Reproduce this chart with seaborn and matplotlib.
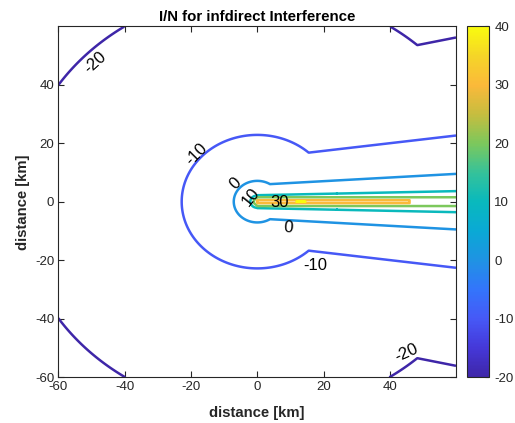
import numpy as np
import matplotlib
matplotlib.use("Agg")
import matplotlib.pyplot as plt
import seaborn as sns

# ---------------- data ----------------
title = "I/N for infdirect Interference"
xlabel = "distance [km]"
ylabel = "distance [km]"
levels = [-20, -10, 0, 10, 20, 30, 40]
tick_vals = [-60, -40, -20, 0, 20, 40]
cbar_ticks = [-20, -10, 0, 10, 20, 30, 40]

# isotropic part: radius (km) of each contour ring around the site
ring_levels = [-20, -10, 0, 10, 20]
ring_radius = [72.0, 22.8, 7.1, 2.1, 0.8]

# beam along +x: contour half-width (km) at x = 0 and x = 60
beam_levels = [-20, -10, 0, 10, 20]
beam_halfwidth_x0 = [42.7, 14.7, 5.75, 2.2, 1.5]
beam_halfwidth_x60 = [56.1, 22.6, 9.5, 3.6, 1.5]

# on-axis beam values (dB) and half-width of the 30 dB contour
axis_x = [0, 5, 10, 12, 13.5, 15, 17, 22, 28, 33, 40, 45.8, 52, 60]
axis_peak = [31, 32, 34, 40.8, 41, 39.5, 35, 33, 33.5, 34, 33, 30.05, 27, 25]
w30 = 0.5

# contour label positions (km): anchor near the line, and text centre
label_snap = [(-48.9, 47.2), (44.8, -51.6),
              (-18.3, 16.3), (17.4, -21.9),
              (-6.5, 6.1), (9.3, -9.0),
              (-2.0, 1.8),
              (6.6, -0.5)]
label_text_pos = [(-48.9, 47.5), (44.8, -51.6),
                  (-18.3, 16.3), (17.4, -21.9),
                  (-6.5, 6.1), (9.3, -9.0),
                  (-2.0, 1.6),
                  (6.6, -0.2)]

# parula-like anchor colours, every 5 dB from -20 to 40
parula_anchor = ["#3e26a8", "#4538d9", "#4659f7", "#3375fb", "#1f93e3",
                 "#0aa9d5", "#09b9bd", "#35c29a", "#7cc85c", "#c6bd3f",
                 "#fbb93a", "#f5d528", "#f9fb0e"]

# ---------------- field ----------------
def log_interp(d, dist, lev):
    ld = np.log(np.asarray(dist, float))[::-1]
    lv = np.asarray(lev, float)[::-1]
    ln = np.log(np.maximum(d, 1e-6))
    out = np.interp(ln, ld, lv)
    lo_s = (lv[1] - lv[0]) / (ld[1] - ld[0])
    hi_s = (lv[-1] - lv[-2]) / (ld[-1] - ld[-2])
    out = np.where(ln < ld[0], lv[0] + lo_s * (ln - ld[0]), out)
    out = np.where(ln > ld[-1], lv[-1] + hi_s * (ln - ld[-1]), out)
    return out

x = np.round(np.arange(-60, 59.95, 0.1), 3)
yc = np.arange(-60, 59.95, 0.2)
yf = np.arange(-5, 5.0001, 0.02)
y = np.unique(np.round(np.concatenate([yc, yf]), 4))
X, Y = np.meshgrid(x, y)
R = np.hypot(X, Y)
ring = np.minimum(log_interp(R, ring_radius, ring_levels), 28.0)

ay = np.abs(y)
beam = np.empty_like(X)
for j, xv in enumerate(x):
    xe = max(xv, 0.0)
    widths = [np.interp(xe, [0, 60], [a, b]) for a, b in zip(beam_halfwidth_x0, beam_halfwidth_x60)]
    w20 = widths[-1]
    outer = log_interp(ay, widths, beam_levels)
    p = np.interp(xe, axis_x, axis_peak)
    if p > 30:
        inner = np.where(ay < w30, p - (p - 30) * ay / w30,
                         30 - 10 * (ay - w30) / (w20 - w30))
    else:
        inner = p - (p - 20) * ay / w20
    col = np.where(ay < w20, inner, outer)
    if xv < 0:
        col = col - 10.0 * abs(xv)
    beam[:, j] = col

Z = np.maximum(ring, beam)

# ---------------- plot ----------------
sns.set_theme(style="ticks")
plt.rcParams["font.family"] = ["Liberation Sans", "DejaVu Sans"]
plt.rcParams["axes.unicode_minus"] = False
cmap = sns.blend_palette(parula_anchor, as_cmap=True)

fig = plt.figure(figsize=(5.15, 4.23), dpi=100)
ax = fig.add_axes([58.3 / 515, (423 - 377.3) / 423, (456 - 58.3) / 515, (377.3 - 26.3) / 423])
cax = fig.add_axes([467.3 / 515, (423 - 377.3) / 423, 21.4 / 515, (377.3 - 26.3) / 423])

cs = ax.contour(X, Y, Z, levels=levels, cmap=cmap, vmin=-20, vmax=40, linewidths=1.8)
texts = ax.clabel(cs, manual=label_snap, inline=False, fontsize=12,
                  colors="black", fmt="%d")
for t, pos in zip(texts, label_text_pos):
    t.set_position(pos)

ax.set_xlim(-60, 59.9)
ax.set_ylim(-60, 59.9)
ax.set_xticks(tick_vals)
ax.set_yticks(tick_vals)
ax.tick_params(direction="in", length=4, width=0.8, top=True, right=True,
               labelsize=9.5, colors="#262626", pad=3)
for s in ax.spines.values():
    s.set_color("#262626")
    s.set_linewidth(0.8)
ax.set_title(title, fontsize=10.8, fontweight="bold", pad=4, color="black")
ax.set_xlabel(xlabel, fontsize=10.7, fontweight="bold", labelpad=9, color="#262626")
ax.set_ylabel(ylabel, fontsize=10.7, fontweight="bold", labelpad=3.5, color="#262626")

sm = matplotlib.cm.ScalarMappable(norm=matplotlib.colors.Normalize(-20, 40), cmap=cmap)
cb = fig.colorbar(sm, cax=cax, ticks=cbar_ticks)
cb.outline.set_edgecolor("#262626")
cb.outline.set_linewidth(0.8)
cax.tick_params(direction="in", length=3, width=0.8, labelsize=9.5, colors="#262626", pad=4)

fig.savefig("out.png", dpi=100)
